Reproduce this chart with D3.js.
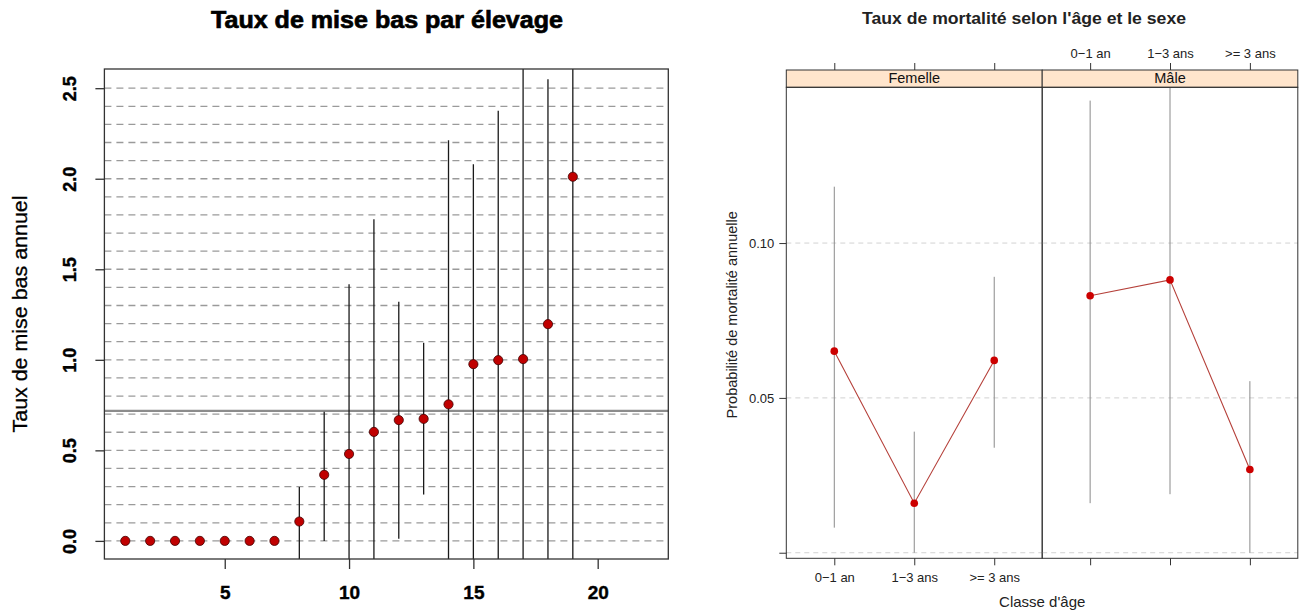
<!DOCTYPE html>
<html>
<head>
<meta charset="utf-8">
<script src="https://cdn.jsdelivr.net/npm/d3@7"></script>
<style>
  body { margin: 0; background: #fff; }
  svg { display: block; font-family: "Liberation Sans", Arial, sans-serif; }
</style>
</head>
<body>
<svg id="chart" width="1299" height="612"></svg>
<script>
// ---- Left chart: taux de mise bas par élevage ----
const elevages = [1, 2, 3, 4, 5, 6, 7, 8, 9, 10, 11, 12, 13, 14, 15, 16, 17, 18, 19];
const miseBas = [0, 0, 0, 0, 0, 0, 0, 0.107, 0.365, 0.48, 0.602, 0.667, 0.674, 0.754, 0.976, 0.998, 1.004, 1.197, 2.011];
const miseBasBas = [null, null, null, null, null, null, null, -0.1, 0.0, -0.1, -0.1, 0.012, 0.256, -0.1, -0.1, -0.1, -0.1, -0.1, -0.1];
const miseBasHaut = [null, null, null, null, null, null, null, 0.298, 0.713, 1.417, 1.776, 1.32, 1.094, 2.213, 2.08, 2.376, 2.606, 2.55, 2.606];
const miseBasMoyenne = 0.718;
const miseBasGrille = [0, 0.1, 0.2, 0.3, 0.4, 0.5, 0.6, 0.7, 0.8, 0.9, 1.0, 1.1, 1.2, 1.3, 1.4, 1.5, 1.6, 1.7, 1.8, 1.9, 2.0, 2.1, 2.2, 2.3, 2.4, 2.5];
const miseBasYTicks = [0, 0.5, 1.0, 1.5, 2.0, 2.5];
const miseBasXTicks = [5, 10, 15, 20];

// ---- Right chart: taux de mortalité selon l'âge et le sexe ----
const sexes = ["Femelle", "Mâle"];
const classesAge = ["0\u22121 an", "1\u22123 ans", ">= 3 ans"];
const mortFemelle = [0.0651, 0.0160, 0.0621];
const mortFemelleBas = [0.0081, 0.0, 0.0339];
const mortFemelleHaut = [0.1182, 0.0391, 0.0891];
const mortMale = [0.0830, 0.0881, 0.0269];
const mortMaleBas = [0.0160, 0.0189, 0.0];
const mortMaleHaut = [0.1460, 0.1503, 0.0554];
const mortYTicks = [0, 0.05, 0.10];
const mortYLabels = ["", "0.05", "0.10"];

const svg = d3.select("#chart");

// ================= left =================
const L = {left: 104.4, right: 668.3, top: 69, bottom: 559};
const x1 = d3.scaleLinear().domain([0.16, 22.84]).range([L.left, L.right]);
const y1 = d3.scaleLinear().domain([-0.1, 2.606]).range([L.bottom, L.top]);

const left = svg.append("g");

left.append("text")
    .attr("x", 387).attr("y", 28)
    .attr("text-anchor", "middle")
    .attr("font-weight", "bold")
    .attr("font-size", 24)
    .attr("stroke", "#000")
    .attr("stroke-width", 0.7)
    .attr("textLength", 352)
    .attr("lengthAdjust", "spacingAndGlyphs")
    .text("Taux de mise bas par élevage");

left.selectAll(".grid")
    .data(miseBasGrille)
    .join("line")
    .attr("x1", L.left).attr("x2", L.right)
    .attr("y1", d => y1(d)).attr("y2", d => y1(d))
    .attr("stroke", "#9a9a9a")
    .attr("stroke-width", 1.3)
    .attr("stroke-dasharray", "7,5");

left.append("line")
    .attr("x1", L.left).attr("x2", L.right)
    .attr("y1", y1(miseBasMoyenne)).attr("y2", y1(miseBasMoyenne))
    .attr("stroke", "#8c8c8c")
    .attr("stroke-width", 2.2);

const bars = elevages.map((e, i) => ({e, lo: miseBasBas[i], hi: miseBasHaut[i]}))
    .filter(d => d.lo !== null);

left.selectAll(".ci")
    .data(bars)
    .join("line")
    .attr("x1", d => x1(d.e)).attr("x2", d => x1(d.e))
    .attr("y1", d => y1(d.lo)).attr("y2", d => y1(d.hi))
    .attr("stroke", "#1a1a1a")
    .attr("stroke-width", 1.3);

left.selectAll(".pt")
    .data(elevages.map((e, i) => ({e, v: miseBas[i]})))
    .join("circle")
    .attr("cx", d => x1(d.e)).attr("cy", d => y1(d.v))
    .attr("r", 4.6)
    .attr("fill", "#c00000")
    .attr("stroke", "#400000")
    .attr("stroke-width", 0.8);

left.append("rect")
    .attr("x", L.left).attr("y", L.top)
    .attr("width", L.right - L.left).attr("height", L.bottom - L.top)
    .attr("fill", "none")
    .attr("stroke", "#333")
    .attr("stroke-width", 1.3);

const xAx1 = left.append("g")
    .attr("transform", `translate(0,${L.bottom})`)
    .call(d3.axisBottom(x1).tickValues(miseBasXTicks).tickFormat(d3.format("d")).tickSize(10).tickPadding(17));
xAx1.select(".domain").remove();
xAx1.selectAll(".tick line").attr("stroke", "#333").attr("stroke-width", 1.3);
xAx1.selectAll("text")
    .attr("font-family", "Liberation Sans, Arial, sans-serif")
    .attr("font-size", 19).attr("font-weight", "bold").attr("fill", "#000")
    .attr("stroke", "#000").attr("stroke-width", 0.4);

const yAx1 = left.append("g")
    .attr("transform", `translate(${L.left},0)`)
    .call(d3.axisLeft(y1).tickValues(miseBasYTicks).tickFormat(d3.format(".1f")).tickSize(9));
yAx1.select(".domain").remove();
yAx1.selectAll(".tick line").attr("stroke", "#333").attr("stroke-width", 1.3);
yAx1.selectAll("text")
    .attr("font-family", "Liberation Sans, Arial, sans-serif")
    .attr("font-size", 18).attr("font-weight", "bold").attr("fill", "#000")
    .attr("stroke", "#000").attr("stroke-width", 0.4)
    .attr("text-anchor", "middle")
    .attr("x", 0).attr("dy", 0)
    .attr("transform", "translate(-34,0) rotate(-90) translate(0,6)");

left.append("text")
    .attr("transform", `translate(27,${(L.top + L.bottom) / 2}) rotate(-90)`)
    .attr("text-anchor", "middle")
    .attr("font-size", 21)
    .attr("stroke", "#000")
    .attr("stroke-width", 0.3)
    .attr("textLength", 237)
    .attr("lengthAdjust", "spacingAndGlyphs")
    .text("Taux de mise bas annuel");

// ================= right =================
const R = {left: 786.3, mid: 1042.2, right: 1297.8, stripTop: 70, top: 87.3, bottom: 558.3};
const y2 = d3.scaleLinear().domain([-0.0018, 0.1503]).range([R.bottom, R.top]);
const panels = [
    {sexe: sexes[0], x0: R.left, x1: R.mid, v: mortFemelle, lo: mortFemelleBas, hi: mortFemelleHaut},
    {sexe: sexes[1], x0: R.mid, x1: R.right, v: mortMale, lo: mortMaleBas, hi: mortMaleHaut}
];

const right = svg.append("g").attr("font-family", "Liberation Sans, Arial, sans-serif");

right.append("text")
    .attr("x", 1024).attr("y", 24)
    .attr("text-anchor", "middle")
    .attr("font-weight", "bold")
    .attr("font-size", 16)
    .attr("fill", "#222")
    .attr("textLength", 324)
    .attr("lengthAdjust", "spacingAndGlyphs")
    .text("Taux de mortalité selon l'âge et le sexe");

panels.forEach((p, pi) => {
    const xs = d3.scalePoint().domain(classesAge).range([p.x0, p.x1]).padding(0.6);
    const g = right.append("g");

    g.selectAll(".grid")
        .data(mortYTicks)
        .join("line")
        .attr("x1", p.x0).attr("x2", p.x1)
        .attr("y1", d => y2(d)).attr("y2", d => y2(d))
        .attr("stroke", "#d2d2d2")
        .attr("stroke-dasharray", "5,4");

    const pts = classesAge.map((c, i) => ({c, v: p.v[i], lo: p.lo[i], hi: p.hi[i]}));

    g.selectAll(".ci")
        .data(pts)
        .join("line")
        .attr("x1", d => xs(d.c)).attr("x2", d => xs(d.c))
        .attr("y1", d => y2(d.lo)).attr("y2", d => y2(d.hi))
        .attr("stroke", "#8a8a8a")
        .attr("stroke-width", 1);

    g.append("path")
        .datum(pts)
        .attr("fill", "none")
        .attr("stroke", "#b5403a")
        .attr("stroke-width", 1.1)
        .attr("d", d3.line().x(d => xs(d.c)).y(d => y2(d.v)));

    g.selectAll(".pt")
        .data(pts)
        .join("circle")
        .attr("cx", d => xs(d.c)).attr("cy", d => y2(d.v))
        .attr("r", 3.8)
        .attr("fill", "#cc0000");

    // strip
    g.append("rect")
        .attr("x", p.x0).attr("y", R.stripTop)
        .attr("width", p.x1 - p.x0).attr("height", R.top - R.stripTop)
        .attr("fill", "#ffe5cc")
        .attr("stroke", "#333");
    g.append("text")
        .attr("x", (p.x0 + p.x1) / 2).attr("y", R.top - 4)
        .attr("text-anchor", "middle")
        .attr("font-size", 14.5)
        .attr("fill", "#111")
        .text(p.sexe);

    g.append("rect")
        .attr("x", p.x0).attr("y", R.top)
        .attr("width", p.x1 - p.x0).attr("height", R.bottom - R.top)
        .attr("fill", "none")
        .attr("stroke", "#333");

    // bottom axis (labels only under first panel), top axis (labels only over second)
    const bAx = g.append("g")
        .attr("transform", `translate(0,${R.bottom})`)
        .call(d3.axisBottom(xs).tickSize(7).tickPadding(7).tickFormat(pi === 0 ? (d => d) : () => ""));
    const tAx = g.append("g")
        .attr("transform", `translate(0,${R.stripTop})`)
        .call(d3.axisTop(xs).tickSize(7).tickPadding(5).tickFormat(pi === 1 ? (d => d) : () => ""));
    [bAx, tAx].forEach(a => {
        a.select(".domain").remove();
        a.selectAll(".tick line").attr("stroke", "#333");
        a.selectAll("text").attr("font-family", null).attr("font-size", 13).attr("fill", "#222");
    });
});

const yAx2 = right.append("g")
    .attr("transform", `translate(${R.left},0)`)
    .call(d3.axisLeft(y2).tickValues(mortYTicks).tickFormat((d, i) => mortYLabels[i]).tickSize(7).tickPadding(5));
yAx2.select(".domain").remove();
yAx2.selectAll(".tick line").attr("stroke", "#333");
yAx2.selectAll("text").attr("font-family", null).attr("font-size", 13).attr("fill", "#222");

right.append("text")
    .attr("transform", `translate(737,${(R.top + R.bottom) / 2 - 8}) rotate(-90)`)
    .attr("text-anchor", "middle")
    .attr("font-size", 14.5)
    .attr("fill", "#222")
    .text("Probabilité de mortalité annuelle");

right.append("text")
    .attr("x", R.mid).attr("y", 607)
    .attr("text-anchor", "middle")
    .attr("font-size", 15)
    .attr("fill", "#222")
    .text("Classe d'âge");
</script>
</body>
</html>
